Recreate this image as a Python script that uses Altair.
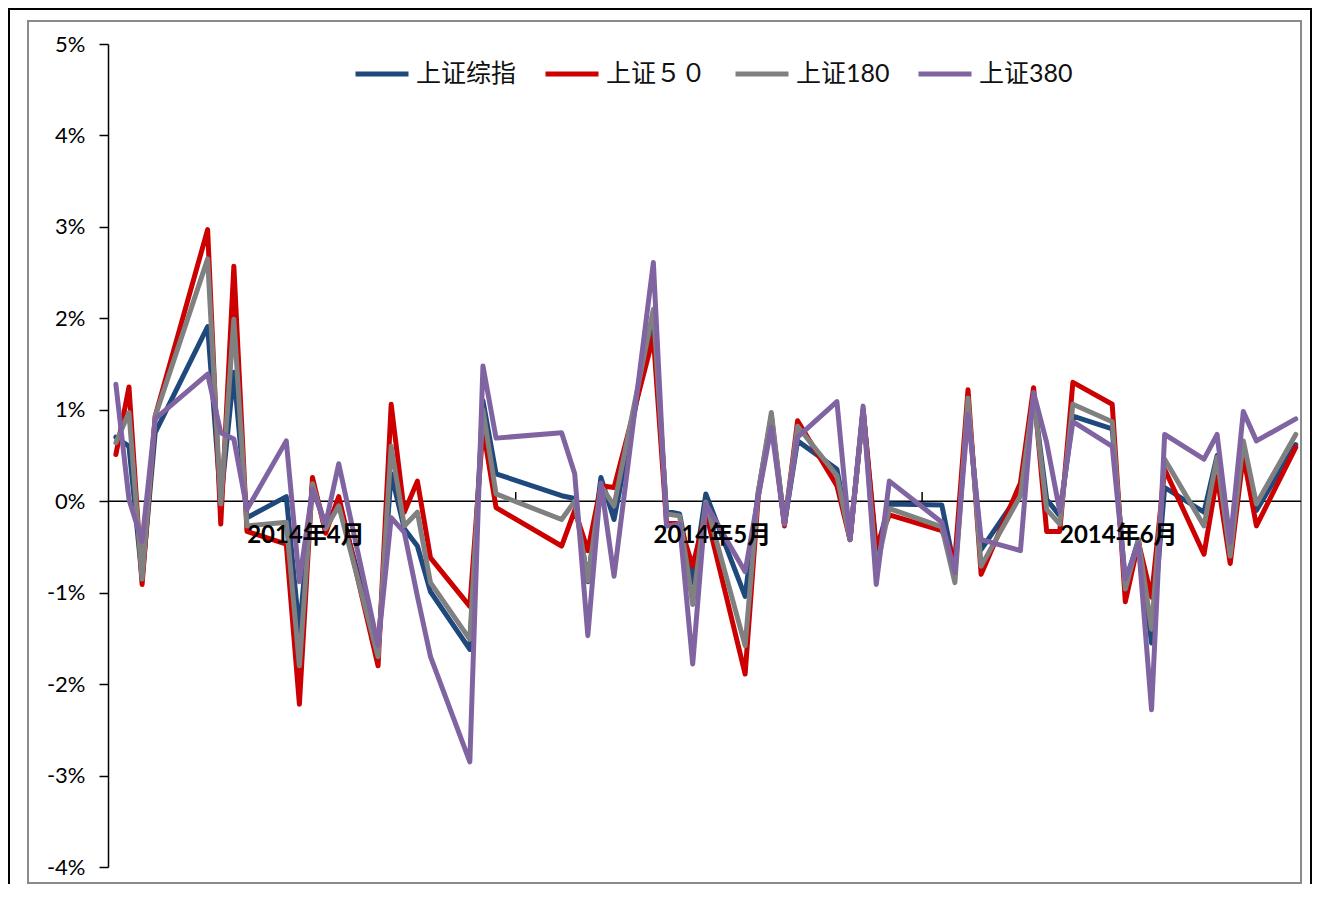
import altair as alt
import pandas as pd

# ---- data -------------------------------------------------------------
dates = [
    "2014-04-01", "2014-04-02", "2014-04-03", "2014-04-04",
    "2014-04-08", "2014-04-09", "2014-04-10", "2014-04-11",
    "2014-04-14", "2014-04-15", "2014-04-16", "2014-04-17", "2014-04-18",
    "2014-04-21", "2014-04-22", "2014-04-23", "2014-04-24", "2014-04-25",
    "2014-04-28", "2014-04-29", "2014-04-30",
    "2014-05-05", "2014-05-06", "2014-05-07", "2014-05-08", "2014-05-09",
    "2014-05-12", "2014-05-13", "2014-05-14", "2014-05-15", "2014-05-16",
    "2014-05-19", "2014-05-20", "2014-05-21", "2014-05-22", "2014-05-23",
    "2014-05-26", "2014-05-27", "2014-05-28", "2014-05-29", "2014-05-30",
    "2014-06-03", "2014-06-04", "2014-06-05", "2014-06-06",
    "2014-06-09", "2014-06-10", "2014-06-11", "2014-06-12", "2014-06-13",
    "2014-06-16", "2014-06-17", "2014-06-18", "2014-06-19", "2014-06-20",
    "2014-06-23", "2014-06-24", "2014-06-25", "2014-06-26", "2014-06-27",
    "2014-06-30",
]

series_names = ["上证综指", "上证５０", "上证180", "上证380"]
series_colors = ["#1F497D", "#CC0000", "#808080", "#8064A2"]

sh_composite = [
    0.70, 0.60, -0.85, 0.75,
    1.91, 0.00, 1.41, -0.18,
    0.05, -1.43, 0.20, -0.28, 0.00,
    -1.62, 0.30, -0.30, -0.49, -0.99,
    -1.62, 1.10, 0.30,
    0.06, 0.03, -0.88, 0.26, -0.20,
    2.05, -0.11, -0.14, -0.89, 0.08,
    -1.04, 0.10, 0.93, -0.25, 0.66,
    0.35, -0.42, 1.00, -0.55, -0.03,
    -0.04, -0.75, 1.05, -0.53,
    0.10, 1.15, 0.02, -0.16, 0.93,
    0.79, -0.89, -0.42, -1.55, 0.15,
    -0.12, 0.50, -0.60, 0.60, -0.10,
    0.62,
]
sh_50 = [
    0.51, 1.25, -0.91, 0.93,
    2.97, -0.25, 2.57, -0.33,
    -0.47, -2.22, 0.26, -0.35, 0.05,
    -1.80, 1.06, -0.12, 0.22, -0.62,
    -1.15, 0.80, -0.07,
    -0.49, -0.10, -0.54, 0.17, 0.15,
    1.80, -0.23, -0.25, -0.71, -0.12,
    -1.89, 0.05, 0.90, -0.27, 0.88,
    0.17, -0.42, 1.00, -0.50, -0.15,
    -0.32, -0.64, 1.22, -0.80,
    0.20, 1.24, -0.33, -0.33, 1.30,
    1.06, -1.10, -0.45, -1.05, 0.35,
    -0.58, 0.27, -0.68, 0.50, -0.27,
    0.59,
]
sh_180 = [
    0.64, 0.97, -0.85, 0.93,
    2.65, -0.03, 1.99, -0.27,
    -0.23, -1.80, 0.19, -0.30, -0.05,
    -1.70, 0.60, -0.27, -0.12, -0.89,
    -1.51, 1.00, 0.08,
    -0.20, 0.00, -0.87, 0.17, -0.05,
    2.10, -0.14, -0.16, -1.13, -0.01,
    -1.58, 0.10, 0.97, -0.25, 0.82,
    0.28, -0.42, 1.00, -0.75, -0.08,
    -0.28, -0.89, 1.13, -0.71,
    0.06, 1.15, -0.09, -0.25, 1.06,
    0.87, -0.96, -0.42, -1.40, 0.46,
    -0.27, 0.48, -0.60, 0.66, -0.03,
    0.73,
]
sh_380 = [
    1.28, 0.02, -0.44, 0.90,
    1.39, 0.75, 0.68, -0.09,
    0.66, -0.88, 0.13, -0.25, 0.41,
    -1.58, -0.18, -0.34, -1.04, -1.70,
    -2.85, 1.48, 0.69,
    0.75, 0.30, -1.47, 0.20, -0.82,
    2.61, -0.27, -0.25, -1.78, -0.03,
    -0.77, 0.05, 0.81, -0.25, 0.70,
    1.09, -0.42, 1.04, -0.91, 0.22,
    -0.23, -0.78, 0.95, -0.42,
    -0.54, 1.19, 0.64, -0.11, 0.87,
    0.60, -0.85, -0.47, -2.28, 0.73,
    0.46, 0.73, -0.45, 0.98, 0.66,
    0.90,
]

month_labels = ["2014年4月", "2014年5月", "2014年6月"]
month_label_dates = ["2014-04-15", "2014-05-16", "2014-06-16"]
month_tick_dates = ["2014-05-01", "2014-06-01"]
y_tick_values = [-4, -3, -2, -1, 0, 1, 2, 3, 4, 5]

# ---- build tables -----------------------------------------------------
start = pd.Timestamp("2014-04-01")


def day_of(d):
    return (pd.Timestamp(d) - start).days


rows = []
for name, vals in zip(series_names, [sh_composite, sh_50, sh_180, sh_380]):
    for d, v in zip(dates, vals):
        rows.append({"day": day_of(d), "value": v, "series": name})
df = pd.DataFrame(rows)

labels_df = pd.DataFrame({"day": [day_of(d) + 0.5 for d in month_label_dates],
                          "label": month_labels,
                          "value": [0.0] * len(month_labels)})
ticks_df = pd.DataFrame({"day": [day_of(d) + 0.5 for d in month_tick_dates],
                         "value": [0.0] * len(month_tick_dates),
                         "value2": [0.1] * len(month_tick_dates)})
zero_df = pd.DataFrame({"value": [0.0]})

W, H = 1193, 823
# decorative frames (pixel positions relative to the plot area)
frames_df = pd.DataFrame({
    "px1": [-99, -80], "px2": [W + 10, W],
    "py1": [-35, -23], "py2": [875, 839],
    "kind": ["outer", "inner"],
})

xscale = alt.Scale(domain=[-0.6, 90.4], nice=False, zero=False)
yscale = alt.Scale(domain=[-4, 5], nice=False, zero=False)

color = alt.Color(
    "series:N",
    scale=alt.Scale(domain=series_names, range=series_colors),
    legend=alt.Legend(
        title=None,
        orient="none",
        legendX=245,
        legendY=1,
        direction="horizontal",
        symbolType="stroke",
        symbolSize=2809,
        symbolStrokeWidth=5,
        labelFont="Lato, Noto Sans CJK SC",
        labelFontSize=25,
        labelColor="#111111",
        labelOffset=5,
        columnPadding=18,
        labelLimit=300,
    ),
)

yaxis = alt.Axis(
    values=y_tick_values,
    labelExpr="datum.value + '%'",
    grid=False,
    domainColor="black",
    domainWidth=1.5,
    tickColor="black",
    tickWidth=1.5,
    tickSize=9,
    labelFont="Lato",
    labelFontSize=22,
    labelColor="black",
    labelPadding=14,
    title=None,
)

Y = alt.Y("value:Q", scale=yscale, axis=yaxis)
X = alt.X("day:Q", scale=xscale, axis=None)

base = alt.Chart(df).mark_line(strokeWidth=5, strokeJoin="round", strokeCap="round").encode(
    x=X, y=Y, color=color,
)

line_layers = [base.transform_filter(alt.datum.series == s) for s in series_names]

zero_line = alt.Chart(zero_df).mark_rule(color="black", strokeWidth=1.5).encode(y=Y)

month_ticks = alt.Chart(ticks_df).mark_rule(color="black", strokeWidth=1.5).encode(
    x=X, y=Y, y2="value2:Q",
)

month_text = alt.Chart(labels_df).mark_text(
    font="Lato, Noto Sans CJK SC", fontSize=24, fontWeight="bold", color="black",
    dy=35, align="center", baseline="middle",
).encode(x=X, y=Y, text="label:N")

frames = alt.Chart(frames_df).mark_rect(fillOpacity=0, strokeWidth=2).encode(
    x=alt.X("px1:Q", scale=None),
    x2="px2:Q",
    y=alt.Y("py1:Q", scale=None),
    y2="py2:Q",
    stroke=alt.Stroke("kind:N", scale=alt.Scale(domain=["outer", "inner"],
                                                 range=["black", "#8a8a8a"]),
                      legend=None),
)

chart = alt.layer(
    frames, zero_line, month_ticks, *line_layers, month_text
).resolve_scale(stroke="independent").properties(
    width=W,
    height=H,
    autosize=alt.AutoSizeParams(type="none"),
    padding={"left": 100, "top": 36, "right": 11, "bottom": 17},
).configure_view(stroke=None)

chart.save("out.html", embed_options={"renderer": "svg", "actions": False})
